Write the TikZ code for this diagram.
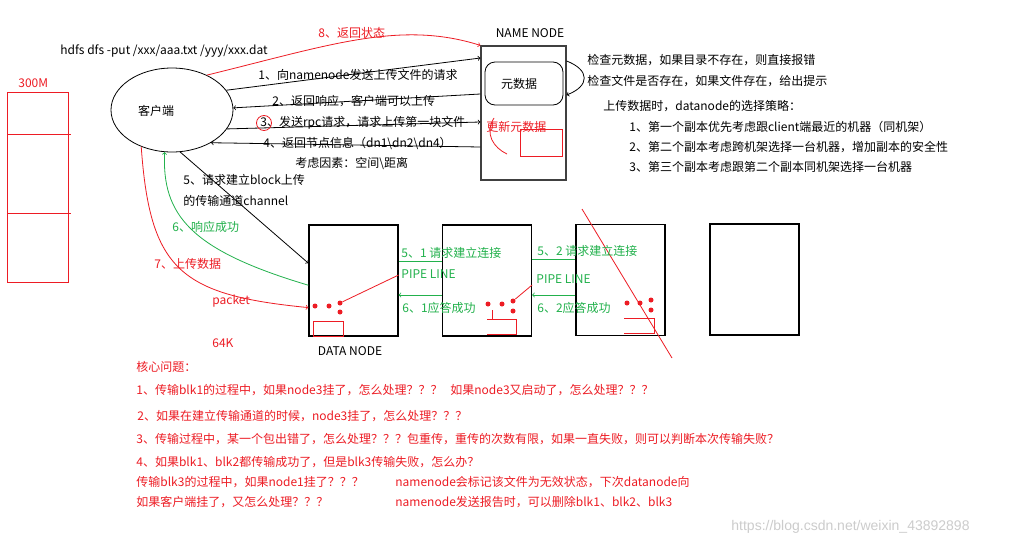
\documentclass[tikz,border=0pt]{standalone}
\usepackage{fontspec}
\setmainfont{Noto Sans CJK SC}
\newfontfamily\wmfont{Liberation Sans}
\usetikzlibrary{shapes,arrows,calc}
\definecolor{hdred}{RGB}{237,28,36}
\definecolor{hdgreen}{RGB}{34,177,76}

\begin{document}
\begin{tikzpicture}[x=1pt,y=-1pt,line width=0.8pt,font=\fontsize{12}{14}\selectfont]
		\tikzstyle{txt}=[anchor=west,inner sep=0pt]
		\tikzstyle{redtxt}=[txt,text=hdred]
		\tikzstyle{greentxt}=[txt,text=hdgreen]
		\tikzstyle{nodebox}=[draw,line width=1.2pt,minimum width=89pt,minimum height=111pt,inner sep=0pt]
		\tikzstyle{reddot}=[circle,fill=hdred,inner sep=0pt,minimum size=5pt]

		\fill[white] (0,0) rectangle (1020,546);
		\useasboundingbox (0,0) rectangle (1020,546);

		% client and name node
		\node[draw,ellipse,minimum width=122pt,minimum height=84pt,inner sep=0pt](client) at (172,110){};
		\node(clientlbl) at (156,111){客户端};
		\node[txt](cmd) at (60,51){hdfs dfs -put /xxx/aaa.txt /yyy/xxx.dat};

		\node[draw=black!75,line width=1.2pt,minimum width=85pt,minimum height=134pt,inner sep=0pt](nn) at (523.5,113){};
		\node(nnlbl) at (530,33){NAME NODE};
		\node[draw,rounded corners=10pt,minimum width=78pt,minimum height=43pt](meta) at (524,83.5){};
		\node(metalbl) at (519,84){元数据};
		\node[redtxt](upd) at (486,127){更新元数据};
		\draw[hdred] (520,129) rectangle (562,156);
		\draw[hdred] (494,118) .. controls (484,134) and (494,148) .. (507,154);

		% 300M block
		\node[redtxt](size) at (18,83){300M};
		\draw[hdred] (7,92) rectangle (68,282);
		\draw[hdred] (7,134) -- (71,134);
		\draw[hdred] (7,213) -- (71,213);

		% client <-> name node
		\draw[->] (client.20) -- (nn.west |- 0,58);
		\node[txt](m1) at (258,75){1、向namenode发送上传文件的请求};
		\draw[->] (nn.west |- 0,94) -- (client.2);
		\node[txt](m2) at (272,101){2、返回响应，客户端可以上传};
		\draw[->] (client.-19) -- (nn.west |- 0,122);
		\node[txt](m3) at (260,123){3、发送rpc请求，请求上传第一块文件};
		\node[draw=hdred,circle,minimum size=15pt,inner sep=0pt](rpcmark) at (264,123){};
		\draw[->] (nn.west |- 0,147) -- (client.-40);
		\node[txt](m4) at (263,143){4、返回节点信息（dn1\textbackslash dn2\textbackslash dn4）};
		\node[txt](m4b) at (295,163){考虑因素：空间\textbackslash 距离};
		\draw[->,hdred] (client.45) .. controls (330,45) and (400,20) .. (nn.north west);
		\node[redtxt](m8) at (318,33){8、返回状态};

		% name node checks
		\draw[->] (nn.east |- 0,61) .. controls (590,70) and (590,86) .. (nn.east |- 0,95);
		\node[txt](chk1) at (587,60){检查元数据，如果目录不存在，则直接报错};
		\node[txt](chk2) at (587,81){检查文件是否存在，如果文件存在，给出提示};
		\node[txt](pol) at (603,106){上传数据时，datanode的选择策略：};
		\node[txt](pol1) at (629,127){1、第一个副本优先考虑跟client端最近的机器（同机架）};
		\node[txt](pol2) at (629,147){2、第二个副本考虑跨机架选择一台机器，增加副本的安全性};
		\node[txt](pol3) at (629,167){3、第三个副本考虑跟第二个副本同机架选择一台机器};

		% data nodes
		\node[nodebox](dn1) at (353.5,280.5){};
		\node[nodebox](dn2) at (487,280.5){};
		\node[nodebox](dn3) at (620.5,280){};
		\node[nodebox](dn4) at (754.5,279.5){};
		\node(dnlbl) at (350,351){DATA NODE};

		\draw[->] (client.-79) -- (dn1.159);
		\node[txt](m5a) at (183,180){5、请求建立block上传};
		\node[txt](m5b) at (183,201){的传输通道channel};
		\draw[->,hdgreen] (dn1.186) .. controls (190,250) and (162,215) .. (client.-100);
		\node[greentxt](m6) at (172,227){6、响应成功};
		\draw[->,hdred] (client.-130) .. controls (150,270) and (180,295) .. (dn1.211);
		\node[redtxt](m7) at (154,264){7、上传数据};
		\node[redtxt](pkt) at (212,301){packet};
		\node[redtxt](pks) at (212,343){64K};

		% packets inside the data nodes
		\node[reddot](d11) at (315,306){};
		\node[reddot](d12) at (329,306){};
		\node[reddot](d13) at (340,303){};
		\node[reddot](d14) at (340,312){};
		\node[reddot](d21) at (488,304){};
		\node[reddot](d22) at (502,304){};
		\node[reddot](d23) at (513,301){};
		\node[reddot](d24) at (513,311){};
		\node[reddot](d31) at (627,303){};
		\node[reddot](d32) at (640,303){};
		\node[reddot](d33) at (651,300){};
		\node[reddot](d34) at (651,310){};
		\draw[hdred] (dn1.east |- 0,275) -- (d13);
		\draw[hdred] (dn2.east |- 0,285) -- (d23);
		\draw[hdred] (313,321) rectangle (343,336);
		\draw[hdred] (487,319) -- (516,319) -- (516,334) -- (487,334);
		\draw[hdred] (492,310) -- (492,319);
		\draw[hdred] (624,318) -- (654,318) -- (654,333) -- (624,333);
		\draw[hdred] (582,209) -- (672,358);

		% pipeline
		\draw[hdgreen] (dn1.east |- 0,261) -- (dn2.west |- 0,261);
		\draw[->,hdgreen] (dn2.west |- 0,295) -- (dn1.east |- 0,295);
		\node[greentxt](p51) at (401,253){5、1 请求建立连接};
		\node[greentxt](pl1) at (401,274){PIPE LINE};
		\node[greentxt](p61) at (402,308){6、1应答成功};
		\draw[hdgreen] (dn2.east |- 0,259) -- (dn3.west |- 0,259);
		\draw[->,hdgreen] (dn3.west |- 0,295) -- (dn2.east |- 0,295);
		\node[greentxt](p52) at (537,251){5、2 请求建立连接};
		\node[greentxt](pl2) at (536,279){PIPE LINE};
		\node[greentxt](p62) at (537,308){6、2应答成功};

		% core questions
		\node[redtxt](q0) at (136,367){核心问题：};
		\node[redtxt](q1) at (136,390){1、传输blk1的过程中，如果node3挂了，怎么处理？？？};
		\node[redtxt](q1b) at (450,390){如果node3又启动了，怎么处理？？？};
		\node[redtxt](q2) at (137,416){2、如果在建立传输通道的时候，node3挂了，怎么处理？？？};
		\node[redtxt](q3) at (136,439){3、传输过程中，某一个包出错了，怎么处理？？？包重传，重传的次数有限，如果一直失败，则可以判断本次传输失败？};
		\node[redtxt](q4) at (136,462){4、如果blk1、blk2都传输成功了，但是blk3传输失败，怎么办？};
		\node[redtxt](q5) at (136,482){传输blk3的过程中，如果node1挂了？？？};
		\node[redtxt](q6) at (136,502){如果客户端挂了，又怎么处理？？？};
		\node[redtxt](a5) at (395,482){namenode会标记该文件为无效状态，下次datanode向};
		\node[redtxt](a6) at (395,502){namenode发送报告时，可以删除blk1、blk2、blk3};

		\node[txt,text=gray!40,font=\wmfont\fontsize{14}{16}\selectfont](wm) at (731,527){https://blog.csdn.net/weixin\_43892898};
	\end{tikzpicture}
\end{document}
